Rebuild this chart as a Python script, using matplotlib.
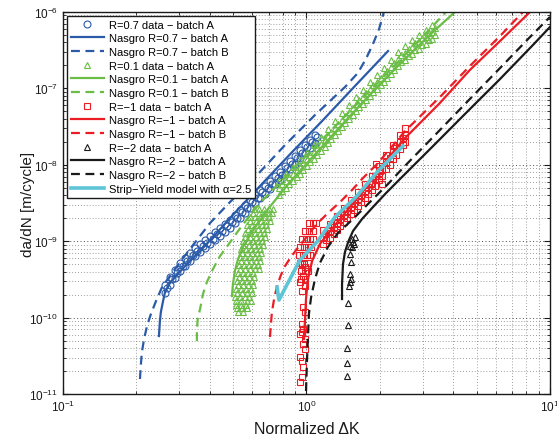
import matplotlib.pyplot as plt
import numpy as np

plt.rcParams['font.family'] = ['Liberation Sans', 'DejaVu Sans']
plt.rcParams['mathtext.default'] = 'regular'

# all values as log10: x = log10(normalized dK), y = log10(da/dN)

# ---- R=0.7 ----
r07_data_logdk = [-0.581, -0.561, -0.540, -0.519, -0.499, -0.478, -0.458, -0.437, -0.417, -0.396, -0.376,
                  -0.355, -0.335, -0.314, -0.294, -0.273, -0.253, -0.232, -0.211, -0.191, -0.170, -0.150,
                  -0.129, -0.109, -0.088, -0.068, -0.047, -0.027, -0.006, 0.014, 0.035]
r07_data_upper = [-9.576, -9.471, -9.380, -9.288, -9.223, -9.157, -9.092, -9.039, -8.987, -8.935, -8.882,
                  -8.830, -8.777, -8.725, -8.660, -8.594, -8.529, -8.463, -8.398, -8.332, -8.280, -8.215,
                  -8.149, -8.097, -8.018, -7.953, -7.887, -7.809, -7.743, -7.678, -7.612]
r07_data_lower = [-9.676, -9.571, -9.480, -9.388, -9.323, -9.257, -9.192, -9.139, -9.087, -9.035, -8.982,
                  -8.930, -8.877, -8.825, -8.760, -8.694, -8.629, -8.563, -8.498, -8.432, -8.380, -8.315,
                  -8.249, -8.197, -8.118, -8.053, -7.987, -7.909, -7.843, -7.778, -7.712]
r07_data2_logdk = [-0.571, -0.551, -0.530, -0.509, -0.489, -0.468, -0.448, -0.427, -0.407, -0.386, -0.366,
                   -0.345, -0.325, -0.304, -0.284, -0.263, -0.243, -0.222, -0.201, -0.181, -0.160, -0.140,
                   -0.119, -0.099, -0.078, -0.058, -0.037, -0.017, 0.004, 0.024, 0.045]
r07_data2_logdadn = [-9.606, -9.501, -9.410, -9.318, -9.253, -9.187, -9.122, -9.069, -9.017, -8.965, -8.912,
                     -8.860, -8.807, -8.755, -8.690, -8.624, -8.559, -8.493, -8.428, -8.362, -8.310, -8.245,
                     -8.179, -8.127, -8.048, -7.983, -7.917, -7.839, -7.773, -7.708, -7.642]
r07_A_logdk = [-0.606, -0.602, -0.598, -0.589, -0.581, -0.561, -0.532, -0.491, -0.437, -0.376, -0.314,
               -0.191, -0.055, 0.068, 0.199, 0.335]
r07_A_logdadn = [-10.241, -10.045, -9.927, -9.783, -9.665, -9.547, -9.443, -9.299, -9.129, -8.919, -8.697,
                 -8.278, -7.820, -7.414, -6.969, -6.511]
r07_B_logdk = [-0.684, -0.680, -0.676, -0.667, -0.655, -0.639, -0.618, -0.593, -0.561, -0.519, -0.466,
               -0.396, -0.314, -0.203, -0.088, 0.035, 0.158, 0.211, 0.244, 0.273, 0.298, 0.318]
r07_B_logdadn = [-10.804, -10.608, -10.451, -10.280, -10.110, -9.953, -9.783, -9.600, -9.456, -9.273, -9.050,
                 -8.762, -8.487, -8.134, -7.741, -7.348, -6.982, -6.798, -6.615, -6.419, -6.223, -6.000]

# ---- R=0.1 ----
r01_fan_logdadn = [-9.927, -9.835, -9.731, -9.626, -9.521, -9.417, -9.312, -9.207, -9.102, -8.998,
                   -8.893, -8.788, -8.683, -8.579]
r01_fan_logdk = [[-0.281, -0.261],
                 [-0.290, -0.269, -0.248],
                 [-0.294, -0.273, -0.253, -0.236],
                 [-0.290, -0.269, -0.248, -0.228],
                 [-0.285, -0.265, -0.244, -0.224],
                 [-0.281, -0.261, -0.240, -0.220],
                 [-0.277, -0.257, -0.236, -0.216, -0.199],
                 [-0.273, -0.253, -0.232, -0.211, -0.195],
                 [-0.269, -0.248, -0.228, -0.207, -0.191],
                 [-0.261, -0.240, -0.220, -0.199, -0.183],
                 [-0.253, -0.232, -0.211, -0.191, -0.175],
                 [-0.244, -0.224, -0.203, -0.183, -0.166],
                 [-0.232, -0.211, -0.191, -0.170, -0.154],
                 [-0.216, -0.195, -0.175, -0.154, -0.138]]
r01_fan2_logdadn = [-9.880, -9.783, -9.679, -9.574, -9.469, -9.365, -9.260, -9.155, -9.050, -8.946,
                    -8.841, -8.736, -8.631]
r01_fan2_logdk = [[-0.285, -0.264, -0.243],
                  [-0.288, -0.267, -0.246, -0.228],
                  [-0.287, -0.266, -0.245, -0.224],
                  [-0.283, -0.262, -0.241, -0.220],
                  [-0.279, -0.258, -0.237, -0.216],
                  [-0.275, -0.254, -0.233, -0.212, -0.195],
                  [-0.271, -0.250, -0.229, -0.208, -0.191],
                  [-0.266, -0.245, -0.224, -0.203, -0.187],
                  [-0.259, -0.238, -0.217, -0.196, -0.179],
                  [-0.251, -0.230, -0.209, -0.188, -0.171],
                  [-0.242, -0.221, -0.200, -0.179, -0.162],
                  [-0.230, -0.209, -0.188, -0.167, -0.150],
                  [-0.218, -0.197, -0.176, -0.155, -0.140]]
r01_band_logdk = [-0.113, -0.084, -0.055, -0.027, 0.002, 0.031, 0.060, 0.088, 0.117, 0.146, 0.175, 0.203,
                  0.232, 0.261, 0.290, 0.318, 0.347, 0.376, 0.405, 0.433, 0.462, 0.491, 0.515]
r01_band_upper = [-8.212, -8.120, -8.029, -7.937, -7.832, -7.741, -7.636, -7.531, -7.426, -7.322, -7.217,
                  -7.112, -7.021, -6.916, -6.824, -6.733, -6.628, -6.523, -6.445, -6.366, -6.301, -6.235,
                  -6.170]
r01_band_mid = [-8.304, -8.212, -8.121, -8.029, -7.924, -7.833, -7.728, -7.623, -7.518, -7.414, -7.309,
                -7.204, -7.113, -7.008, -6.916, -6.825, -6.720, -6.615, -6.537, -6.458, -6.393, -6.327,
                -6.262]
r01_band_lower = [-8.396, -8.304, -8.213, -8.121, -8.016, -7.925, -7.820, -7.715, -7.610, -7.506, -7.401,
                  -7.296, -7.205, -7.100, -7.008, -6.917, -6.812, -6.707, -6.629, -6.550, -6.485, -6.419,
                  -6.354]
r01_band2_logdk = [-0.099, -0.070, -0.041, -0.013, 0.016, 0.045, 0.074, 0.102, 0.131, 0.160, 0.189, 0.217,
                   0.246, 0.275, 0.304, 0.332, 0.361, 0.390, 0.419, 0.447, 0.476, 0.505, 0.529]
r01_band2_a = [-8.254, -8.162, -8.071, -7.979, -7.874, -7.783, -7.678, -7.573, -7.468, -7.364, -7.259,
               -7.154, -7.063, -6.958, -6.866, -6.775, -6.670, -6.565, -6.487, -6.408, -6.343, -6.277,
               -6.212]
r01_band2_b = [-8.344, -8.252, -8.161, -8.069, -7.964, -7.873, -7.768, -7.663, -7.558, -7.454, -7.349,
               -7.244, -7.153, -7.048, -6.956, -6.865, -6.760, -6.655, -6.577, -6.498, -6.433, -6.367,
               -6.302]
r01_A_logdk = [-0.306, -0.302, -0.294, -0.281, -0.261, -0.232, -0.199, -0.158, -0.068, 0.055, 0.179,
               0.302, 0.425, 0.528, 0.610]
r01_A_logdadn = [-9.718, -9.561, -9.390, -9.233, -9.076, -8.919, -8.762, -8.579, -8.225, -7.793, -7.361,
                 -6.942, -6.550, -6.236, -6.000]
r01_B_logdk = [-0.450, -0.450, -0.446, -0.437, -0.425, -0.409, -0.384, -0.355, -0.322, -0.281, -0.244,
               -0.191, -0.027, 0.179, 0.384, 0.507, 0.573]
r01_B_logdadn = [-10.307, -10.150, -9.992, -9.888, -9.691, -9.534, -9.364, -9.194, -9.050, -8.867, -8.710,
                 -8.500, -7.964, -7.296, -6.628, -6.223, -6.000]

# ---- R=-1 ----
rm1_col_logdk = [-0.018, -0.006, -0.014, -0.027, -0.006, -0.018, -0.014, -0.006, -0.018, -0.014, -0.018,
                 -0.027, -0.006, -0.014, -0.006, -0.027, -0.018, -0.014, -0.018, -0.027]
rm1_col_logdadn = [-9.299, -9.338, -9.456, -9.534, -9.587, -9.652, -9.862, -9.927, -10.084, -10.150, -10.189,
                   -10.215, -10.280, -10.346, -10.411, -10.516, -10.568, -10.647, -10.778, -10.843]
rm1_blob_logdadn = [-9.495, -9.390, -9.286, -9.181, -9.076, -8.971, -8.867, -8.762]
rm1_blob_logdk = [[-0.023, -0.006],
                  [-0.023, -0.006, 0.006],
                  [-0.027, -0.010, 0.006],
                  [-0.031, -0.014, 0.002, 0.014],
                  [-0.027, -0.010, 0.006, 0.019],
                  [-0.018, -0.002, 0.014, 0.027],
                  [-0.006, 0.010, 0.027],
                  [0.010, 0.027, 0.039]]
rm1_band_logdk = [0.068, 0.097, 0.125, 0.154, 0.183, 0.211, 0.240, 0.269, 0.298, 0.327, 0.355, 0.384, 0.405]
rm1_band_upper = [-8.853, -8.775, -8.670, -8.565, -8.461, -8.356, -8.251, -8.146, -8.016, -7.872, -7.741,
                  -7.610, -7.518]
rm1_band_mid = [-8.945, -8.867, -8.762, -8.657, -8.553, -8.448, -8.343, -8.238, -8.108, -7.964, -7.833,
                -7.702, -7.610]
rm1_band_lower = [-9.037, -8.959, -8.854, -8.749, -8.645, -8.540, -8.435, -8.330, -8.200, -8.056, -7.925,
                  -7.794, -7.702]
rm1_band2_logdk = [0.082, 0.111, 0.139, 0.168, 0.197, 0.225, 0.254, 0.283, 0.312, 0.341, 0.369, 0.398]
rm1_band2_a = [-8.895, -8.817, -8.712, -8.607, -8.503, -8.398, -8.293, -8.188, -8.058, -7.914, -7.783, -7.652]
rm1_band2_b = [-8.985, -8.907, -8.802, -8.697, -8.593, -8.488, -8.383, -8.278, -8.148, -8.004, -7.873, -7.742]
rm1_out_logdk = [0.265, 0.281, 0.302, 0.310, 0.285]
rm1_out_logdadn = [-8.251, -8.147, -8.081, -8.251, -7.990]
rm1_A_logdk = [-0.010, -0.006, -0.002, 0.006, 0.023, 0.055, 0.097, 0.158, 0.240, 0.322, 0.405, 0.548,
               0.671, 0.795, 0.918]
rm1_A_logdadn = [-10.280, -10.018, -9.757, -9.495, -9.259, -9.037, -8.867, -8.631, -8.317, -7.964, -7.649,
                 -7.191, -6.759, -6.380, -6.000]
rm1_B_logdk = [-0.150, -0.146, -0.142, -0.133, -0.121, -0.105, -0.088, -0.064, -0.039, -0.006, 0.035, 0.084,
               0.138, 0.187, 0.232, 0.290, 0.405, 0.548, 0.671, 0.795, 0.889]
rm1_B_logdadn = [-10.254, -10.084, -9.927, -9.757, -9.587, -9.443, -9.325, -9.207, -9.102, -8.971, -8.801,
                 -8.644, -8.487, -8.330, -8.173, -7.990, -7.558, -7.113, -6.707, -6.314, -6.000]

# ---- R=-2 ----
rm2_data_logdk = [0.187, 0.191, 0.179, 0.187, 0.179, 0.183, 0.179, 0.183, 0.179, 0.175, 0.171, 0.171,
                  0.166, 0.166, 0.166, 0.199, 0.195]
rm2_data_logdadn = [-8.971, -9.011, -9.063, -9.076, -9.168, -9.273, -9.430, -9.495, -9.534, -9.587, -9.809,
                    -10.097, -10.398, -10.595, -10.765, -8.945, -9.037]
rm2_A_logdk = [0.146, 0.146, 0.150, 0.158, 0.171, 0.191, 0.228, 0.273, 0.327, 0.384, 0.520, 0.659, 0.795,
               0.930, 1.000]
rm2_A_logdadn = [-9.757, -9.561, -9.299, -9.142, -9.011, -8.867, -8.710, -8.553, -8.369, -8.186, -7.754,
                 -7.309, -6.877, -6.432, -6.196]
rm2_B_logdk = [-0.002, 0.002, 0.006, 0.010, 0.019, 0.035, 0.055, 0.088, 0.129, 0.191, 0.273, 0.335, 0.396,
               0.536, 0.671, 0.807, 0.918, 1.000]
rm2_B_logdadn = [-10.961, -10.568, -10.254, -9.953, -9.731, -9.495, -9.286, -9.076, -8.893, -8.710, -8.448,
                 -8.251, -8.042, -7.584, -7.139, -6.694, -6.327, -6.065]

# ---- strip-yield ----
sy_logdk = [-0.121, -0.113, -0.096, -0.068, -0.027, 0.043, 0.117, 0.207, 0.290, 0.396]
sy_logdadn = [-9.600, -9.770, -9.665, -9.495, -9.246, -9.011, -8.684, -8.409, -8.094, -7.754]

c_blue = '#2a5aa8'
c_green = '#6abd45'
c_red = '#ec1c24'
c_black = '#1a1a1a'
c_cyan = '#5ec5d6'


def p(v):
    return 10 ** np.asarray(v, dtype=float)


def flat(rows_y, rows_x):
    xs, ys = [], []
    for y, row in zip(rows_y, rows_x):
        xs += row
        ys += [y] * len(row)
    return xs, ys


fig = plt.figure(figsize=(5.57, 4.39), dpi=100)
ax = fig.add_axes([0.1131, 0.1002, 0.8743, 0.8702])
ax.set_xscale('log')
ax.set_yscale('log')

mk = dict(linestyle='none', markersize=5, markeredgewidth=0.8, markerfacecolor='none')
ln = 1.6
dsh = (4, 2.5)

# R=0.7
h1, = ax.plot(p(r07_data_logdk), p(r07_data_upper), marker='o', color=c_blue, **mk)
ax.plot(p(r07_data_logdk), p(r07_data_lower), marker='o', color=c_blue, **mk)
ax.plot(p(r07_data2_logdk), p(r07_data2_logdadn), marker='o', color=c_blue, **mk)
h2, = ax.plot(p(r07_A_logdk), p(r07_A_logdadn), color=c_blue, lw=ln)
h3, = ax.plot(p(r07_B_logdk), p(r07_B_logdadn), color=c_blue, lw=ln, dashes=dsh)

# R=0.1
fx, fy = flat(r01_fan_logdadn, r01_fan_logdk)
h4, = ax.plot(p(fx), p(fy), marker='^', color=c_green, **mk)
fx2, fy2 = flat(r01_fan2_logdadn, r01_fan2_logdk)
ax.plot(p(fx2), p(fy2), marker='^', color=c_green, **mk)
for row in (r01_band_upper, r01_band_mid, r01_band_lower):
    ax.plot(p(r01_band_logdk), p(row), marker='^', color=c_green, **mk)
for row in (r01_band2_a, r01_band2_b):
    ax.plot(p(r01_band2_logdk), p(row), marker='^', color=c_green, **mk)
h5, = ax.plot(p(r01_A_logdk), p(r01_A_logdadn), color=c_green, lw=ln)
h6, = ax.plot(p(r01_B_logdk), p(r01_B_logdadn), color=c_green, lw=ln, dashes=dsh)

# R=-1
h7, = ax.plot(p(rm1_col_logdk), p(rm1_col_logdadn), marker='s', color=c_red, **mk)
bx, by = flat(rm1_blob_logdadn, rm1_blob_logdk)
ax.plot(p(bx), p(by), marker='s', color=c_red, **mk)
for row in (rm1_band_upper, rm1_band_mid, rm1_band_lower):
    ax.plot(p(rm1_band_logdk), p(row), marker='s', color=c_red, **mk)
for row in (rm1_band2_a, rm1_band2_b):
    ax.plot(p(rm1_band2_logdk), p(row), marker='s', color=c_red, **mk)
ax.plot(p(rm1_out_logdk), p(rm1_out_logdadn), marker='s', color=c_red, **mk)
h8, = ax.plot(p(rm1_A_logdk), p(rm1_A_logdadn), color=c_red, lw=ln)
h9, = ax.plot(p(rm1_B_logdk), p(rm1_B_logdadn), color=c_red, lw=ln, dashes=dsh)

# R=-2
h10, = ax.plot(p(rm2_data_logdk), p(rm2_data_logdadn), marker='^', color=c_black, **mk)
h11, = ax.plot(p(rm2_A_logdk), p(rm2_A_logdadn), color=c_black, lw=ln)
h12, = ax.plot(p(rm2_B_logdk), p(rm2_B_logdadn), color=c_black, lw=ln, dashes=dsh)

h13, = ax.plot(p(sy_logdk), p(sy_logdadn), color=c_cyan, lw=2.6)

ax.set_xlim(0.1, 10)
ax.set_ylim(1e-11, 1e-6)

ax.grid(True, which='major', color='0.3', linestyle=(0, (1, 2.5)), linewidth=0.7)
ax.grid(True, which='minor', color='0.5', linestyle=(0, (1, 2.5)), linewidth=0.6)
ax.tick_params(which='both', direction='in', top=True, right=True, labelsize=8.5, colors='0.1')
ax.tick_params(which='major', length=4.5)
ax.tick_params(which='minor', length=2.5)
for s in ax.spines.values():
    s.set_linewidth(1.0)
    s.set_color('0.1')

ax.set_xlabel('Normalized \u0394K', fontsize=11.5, color='0.1', labelpad=5)
ax.set_ylabel('da/dN [m/cycle]', fontsize=11, color='0.1')
ax.yaxis.set_label_coords(-0.057, 0.5)

labels = ['R=0.7 data \u2212 batch A', 'Nasgro R=0.7 \u2212 batch A', 'Nasgro R=0.7 \u2212 batch B',
          'R=0.1 data \u2212 batch A', 'Nasgro R=0.1 \u2212 batch A', 'Nasgro R=0.1 \u2212 batch B',
          'R=\u22121 data \u2212 batch A', 'Nasgro R=\u22121 \u2212 batch A', 'Nasgro R=\u22121 \u2212 batch B',
          'R=\u22122 data \u2212 batch A', 'Nasgro R=\u22122 \u2212 batch A', 'Nasgro R=\u22122 \u2212 batch B',
          'Strip\u2212Yield model with \u03b1=2.5']
handles = [h1, h2, h3, h4, h5, h6, h7, h8, h9, h10, h11, h12, h13]
leg = ax.legend(handles, labels, loc='upper left', bbox_to_anchor=(0.008, 0.99), borderaxespad=0,
                fontsize=8, numpoints=1, handlelength=3.0, handletextpad=0.4, labelspacing=0.33,
                borderpad=0.35, fancybox=False, framealpha=1, edgecolor='0.1')
leg.get_frame().set_linewidth(1.0)

fig.savefig('out.png', dpi=100)
